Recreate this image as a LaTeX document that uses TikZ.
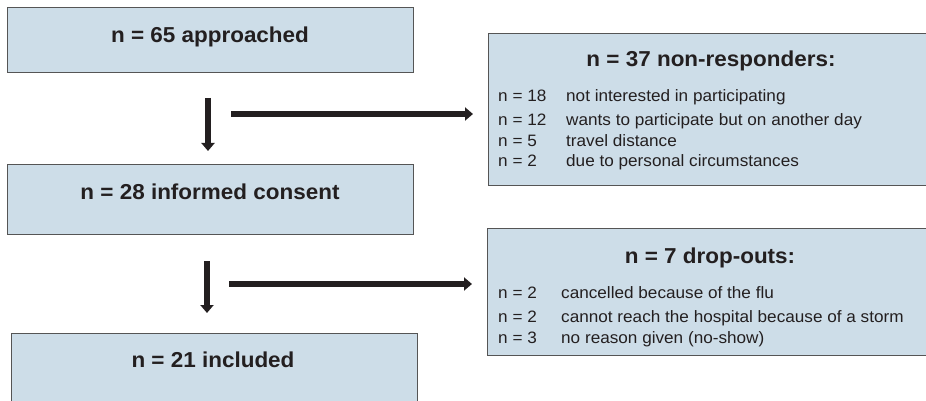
\documentclass[tikz,border=0pt]{standalone}
\usepackage{fontspec}
\setmainfont[FakeStretch=1.04]{Liberation Sans}
\usetikzlibrary{arrows.meta}
\definecolor{boxfill}{RGB}{205,221,232}
\definecolor{boxline}{RGB}{85,85,85}
\definecolor{ink}{RGB}{35,31,32}
\tikzset{
  box/.style={draw=boxline, fill=boxfill, line width=1.3pt, rectangle, inner sep=0pt, anchor=north west},
  title/.style={anchor=base, inner sep=0pt, text=ink, font=\bfseries\fontsize{21.6}{24}\selectfont},
  item/.style={anchor=base west, inner sep=0pt, text=ink, font=\fontsize{16.5}{19}\selectfont},
  bigarrow/.style={draw=ink, line width=6.5pt, -{Triangle[width=13pt,length=8pt]}}
}
\begin{document}
\begin{tikzpicture}[x=1pt,y=-1pt]
\useasboundingbox (0,0) rectangle (926,401);
\clip (0,0) rectangle (926,401);
% left boxes
\node[box, minimum width=406pt, minimum height=65pt] (b1) at (7,7) {};
\node[box, minimum width=406pt, minimum height=70pt] (b2) at (7,164) {};
\node[box, minimum width=406pt, minimum height=90pt] (b3) at (11,333) {};
% right boxes
\node[box, minimum width=450pt, minimum height=152pt] (r1) at (488,33) {};
\node[box, minimum width=450pt, minimum height=127pt] (r2) at (487,228) {};
% titles
\node[title] (t1) at (210,43) {n = 65 approached};
\node[title] (t2) at (210,199) {n = 28 informed consent};
\node[title] (t3) at (213,367) {n = 21 included};
\node[title] (t4) at (711,67) {n = 37 non-responders:};
\node[title] (t5) at (710,263) {n = 7 drop-outs:};
% non-responders list
\node[item] (n1a) at (498,101.5) {n = 18};
\node[item] (n1b) at (566,101.5) {not interested in participating};
\node[item] (n2a) at (498,126) {n = 12};
\node[item] (n2b) at (566,126) {wants to participate but on another day};
\node[item] (n3a) at (498,146.5) {n = 5};
\node[item] (n3b) at (566,146.5) {travel distance};
\node[item] (n4a) at (498,166.5) {n = 2};
\node[item] (n4b) at (566,166.5) {due to personal circumstances};
% drop-outs list
\node[item] (d1a) at (498,298.5) {n = 2};
\node[item] (d1b) at (561,298.5) {cancelled because of the flu};
\node[item] (d2a) at (498,322.5) {n = 2};
\node[item] (d2b) at (561,322.5) {cannot reach the hospital because of a storm};
\node[item] (d3a) at (498,343) {n = 3};
\node[item] (d3b) at (561,343) {no reason given (no-show)};
% arrows
\coordinate (a1) at (208,98);
\coordinate (a2) at (207,261);
\coordinate (h1) at (231,114);
\coordinate (h2) at (229,284);
\draw[bigarrow, shorten >=13pt] (a1) -- (a1 |- b2.north);
\draw[bigarrow, shorten >=20pt] (a2) -- (a2 |- b3.north);
\draw[bigarrow, shorten >=15pt] (h1) -- (h1 -| r1.west);
\draw[bigarrow, shorten >=15pt] (h2) -- (h2 -| r2.west);
\end{tikzpicture}
\end{document}
